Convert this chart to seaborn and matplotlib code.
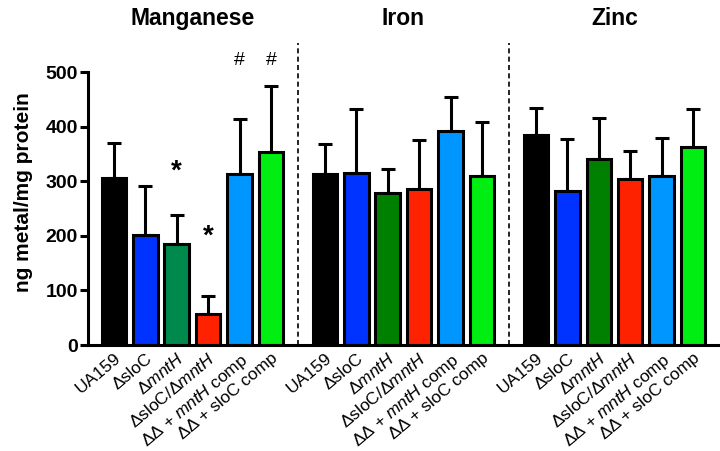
import numpy as np
import pandas as pd
import matplotlib
matplotlib.use("Agg")
import matplotlib.pyplot as plt
import seaborn as sns

# values (ng metal / mg protein), mean and upper SD
metals = ["Manganese", "Iron", "Zinc"]
strains = ["UA159", "ΔsloC", "ΔmntH", "ΔsloC/ΔmntH", "ΔΔ + mntH comp", "ΔΔ + sloC comp"]
strain_labels = ["UA159", "ΔsloC", "Δ$\\mathit{mntH}$", "ΔsloC/Δ$\\mathit{mntH}$",
                 "ΔΔ + $\\mathit{mntH}$ comp", "ΔΔ + sloC comp"]

mn_mean = [306, 201, 186, 57, 314, 354]
mn_sd = [64, 90, 52, 33, 100, 120]
fe_mean = [313, 316, 278, 285, 393, 309]
fe_sd = [56, 117, 45, 90, 62, 99]
zn_mean = [385, 282, 340, 304, 309, 363]
zn_sd = [50, 95, 76, 52, 71, 69]

# significance marks: (metal, strain, symbol, y)
marks = [("Manganese", "ΔmntH", "*", 317), ("Manganese", "ΔsloC/ΔmntH", "*", 198),
         ("Manganese", "ΔΔ + mntH comp", "#", 522), ("Manganese", "ΔΔ + sloC comp", "#", 522)]

strain_colors = {"UA159": "#000000", "ΔsloC": "#0033ff", "ΔmntH": "#008000",
                 "ΔsloC/ΔmntH": "#ff2200", "ΔΔ + mntH comp": "#0096ff", "ΔΔ + sloC comp": "#00ee11"}
mn_mnth_color = "#00894c"

group_step = 6.72
rows = []
for g, (metal, means, sds) in enumerate(zip(metals, [mn_mean, fe_mean, zn_mean], [mn_sd, fe_sd, zn_sd])):
    for i, s in enumerate(strains):
        rows.append({"metal": metal, "strain": s, "value": means[i], "sd": sds[i],
                     "pos": g * group_step + i, "key": f"{metal}|{s}"})
df = pd.DataFrame(rows)

palette = {r.key: strain_colors[r.strain] for r in df.itertuples()}
palette["Manganese|ΔmntH"] = mn_mnth_color

sns.set_style("ticks")
plt.rcParams["font.family"] = ["Liberation Sans", "DejaVu Sans"]
plt.rcParams["mathtext.fontset"] = "custom"
plt.rcParams["mathtext.rm"] = "Liberation Sans"
plt.rcParams["mathtext.it"] = "Liberation Sans:italic"
for k in ["text.color", "axes.labelcolor", "xtick.color", "ytick.color", "axes.edgecolor"]:
    plt.rcParams[k] = "black"

fig, ax = plt.subplots(figsize=(7.2, 4.51), dpi=100)
fig.subplots_adjust(left=0.122, right=1.0, bottom=0.235, top=0.840)

sns.barplot(data=df, x="pos", y="value", hue="key", palette=palette, native_scale=True,
            width=0.78, errorbar=None, edgecolor="black", linewidth=2.2, legend=False,
            dodge=False, saturation=1, ax=ax)
ax.errorbar(df["pos"], df["value"], yerr=[np.zeros(len(df)), df["sd"]], fmt="none",
            ecolor="black", elinewidth=2.2, capsize=5, capthick=2.2, zorder=0.9)

ax.set_xlim(-0.83, 19.3)
ax.set_ylim(0, 500)
ax.set_yticks([0, 100, 200, 300, 400, 500])
ax.set_xticks(df["pos"])
ax.set_xticklabels(strain_labels * len(metals), rotation=40, ha="right",
                   rotation_mode="anchor", fontsize=12.5)
ax.tick_params(axis="x", length=0, pad=4)
ax.tick_params(axis="y", length=6, width=2.2, labelsize=14, pad=1)
for lab in ax.get_yticklabels():
    lab.set_fontweight("bold")
ax.set_xlabel("")
ax.set_ylabel("ng metal/mg protein", fontsize=15, fontweight="bold")
ax.yaxis.set_label_coords(-0.086, 0.56)

sns.despine(ax=ax)
for sp in ["left", "bottom"]:
    ax.spines[sp].set_linewidth(2.2)

# group separators and titles
for g in range(1, len(metals)):
    x = (g - 1) * group_step + 5 + (group_step - 5) / 2
    ax.vlines(x, 0, 553, colors="black", linestyles=(0, (3, 2)), linewidth=1.2, clip_on=False)
for g, metal in enumerate(metals):
    ax.text(g * group_step + 2.5, 598, metal, ha="center", va="center", fontsize=16.5,
            fontweight="bold", clip_on=False)

for metal, strain, sym, y in marks:
    x = df.loc[(df.metal == metal) & (df.strain == strain), "pos"].iloc[0]
    ax.text(x, y, sym, ha="center", va="center", fontsize=20 if sym == "*" else 14,
            fontweight="bold" if sym == "*" else "normal", clip_on=False)

fig.savefig("out.png", dpi=100)
